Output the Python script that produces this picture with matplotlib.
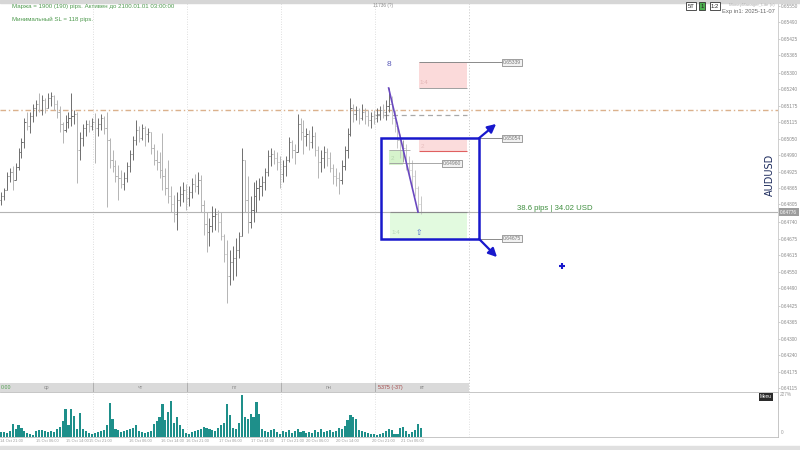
import matplotlib.pyplot as plt
import matplotlib.transforms as mtransforms
from matplotlib.patches import Rectangle

plt.rcParams['font.family'] = ['Liberation Sans', 'DejaVu Sans']

# AUDUSD bars, price in points (1e-5)
highs = [64851, 64866, 64926, 64941, 64949, 64960, 65016, 65054, 65129, 65152, 65152, 65182, 65197, 65223, 65215, 65204,
         65223, 65227, 65215, 65197, 65174, 65114, 65140, 65152, 65223, 65159, 65152, 65077, 65107, 65122, 65122, 65129,
         65148, 65129, 65144, 65137, 65152, 65054, 65009, 64971, 64953, 64934, 64926, 64964, 65009, 65062, 65122, 65099,
         65107, 65099, 65092, 65077, 65031, 65009, 65001, 65073, 64941, 64971, 64874, 64840, 64851, 64874, 64889, 64881,
         64874, 64904, 64919, 64926, 64915, 64821, 64776, 64754, 64799, 64791, 64784, 64776, 64694, 64671, 64634, 64649,
         64679, 64701, 65016, 64934, 64911, 64836, 64889, 64896, 64904, 64911, 64941, 65009, 65016, 65009, 65001, 64986,
         64971, 64986, 65058, 65046, 65031, 65144, 65129, 65122, 65092, 65084, 65099, 65077, 65024, 65009, 65024, 65016,
         65001, 64956, 64941, 64926, 64971, 65024, 65092, 65204, 65182, 65174, 65167, 65182, 65167, 65159, 65152, 65159,
         65167, 65174, 65182, 65197, 65242, 65212, 65159, 65114, 65069, 65046, 65031, 64986, 64971, 64934, 64874, 64836]
lows = [64802, 64821, 64859, 64889, 64859, 64904, 64934, 64979, 65016, 65084, 65073, 65114, 65137, 65152, 65140, 65148,
        65167, 65174, 65159, 65129, 65077, 65035, 65077, 65092, 65099, 65107, 64885, 64971, 65024, 65062, 65077, 65084,
        64960, 65062, 65084, 65069, 64795, 64941, 64926, 64889, 64821, 64866, 64859, 64889, 64926, 64971, 65028, 65039,
        65046, 65024, 65039, 64994, 64953, 64934, 64904, 64859, 64840, 64810, 64776, 64739, 64709, 64799, 64814, 64784,
        64799, 64829, 64851, 64844, 64776, 64690, 64626, 64649, 64701, 64709, 64701, 64671, 64589, 64435, 64502, 64521,
        64536, 64604, 64694, 64776, 64697, 64716, 64739, 64776, 64821, 64836, 64859, 64911, 64949, 64956, 64934, 64866,
        64889, 64911, 64964, 64979, 64956, 65009, 65046, 64994, 65024, 65009, 65016, 64986, 64904, 64926, 64941, 64949,
        64926, 64881, 64874, 64844, 64881, 64934, 64979, 65062, 65114, 65122, 65107, 65122, 65107, 65099, 65092, 65107,
        65114, 65122, 65129, 65122, 65152, 65107, 65077, 65016, 64979, 64964, 64934, 64904, 64859, 64836, 64776, 64769]
closes = [64836, 64859, 64911, 64926, 64896, 64945, 65001, 65039, 65114, 65099, 65137, 65167, 65182, 65159, 65197, 65167,
          65204, 65212, 65182, 65152, 65107, 65084, 65114, 65129, 65137, 65144, 65009, 65054, 65092, 65107, 65099, 65114,
          65092, 65107, 65129, 65092, 65046, 64971, 64949, 64911, 64904, 64881, 64904, 64949, 64994, 65046, 65084, 65054,
          65092, 65069, 65077, 65016, 64971, 64964, 64934, 64911, 64866, 64836, 64806, 64769, 64821, 64844, 64859, 64829,
          64851, 64881, 64874, 64896, 64802, 64731, 64701, 64724, 64761, 64769, 64739, 64686, 64619, 64536, 64589, 64604,
          64634, 64686, 64971, 64821, 64739, 64784, 64836, 64866, 64874, 64889, 64926, 64986, 64994, 64979, 64964, 64919,
          64949, 64971, 65039, 65009, 65001, 65107, 65077, 65062, 65069, 65039, 65062, 65009, 64964, 64979, 65001, 64979,
          64941, 64911, 64904, 64896, 64949, 65009, 65069, 65167, 65144, 65159, 65129, 65152, 65137, 65122, 65137, 65129,
          65144, 65159, 65152, 65174, 65182, 65129, 65099, 65046, 65009, 65016, 64956, 64934, 64911, 64866, 64806, 64776]
first_open = 64821
volumes = [5, 5, 4, 6, 13, 8, 12, 9, 6, 4, 3, 2, 6, 7, 7, 6, 5, 6, 5, 8, 10, 16, 28, 12, 28, 21, 8, 24, 8, 6, 4, 3,
           4, 5, 6, 7, 12, 34, 18, 8, 7, 5, 6, 7, 8, 9, 12, 6, 5, 4, 5, 6, 13, 16, 20, 33, 17, 25, 36, 14, 20, 12, 8, 4,
           3, 5, 6, 7, 8, 10, 9, 8, 7, 6, 9, 12, 14, 33, 22, 9, 8, 14, 42, 20, 18, 23, 20, 35, 23, 8, 6, 5, 7, 8, 5, 3,
           6, 5, 7, 4, 6, 8, 5, 6, 4, 5, 4, 7, 5, 8, 5, 6, 7, 5, 6, 9, 8, 11, 17, 22, 20, 18, 7, 6, 5, 4, 3, 3,
           2, 3, 4, 6, 8, 7, 3, 3, 9, 10, 6, 3, 5, 7, 13, 9]

price_ticks = [0.65550, 0.65490, 0.65425, 0.65365, 0.65300, 0.65240, 0.65175, 0.65115, 0.65050, 0.64990, 0.64925,
               0.64865, 0.64805, 0.64740, 0.64675, 0.64615, 0.64550, 0.64490, 0.64425, 0.64365, 0.64300, 0.64240,
               0.64175, 0.64115]
day_names = ['ср', 'чт', 'пт', 'пн', 'вт']
day_bounds = [31.5, 63.5, 95.5, 127.5, 159.5]
time_labels = ['14 Oct 21:00', '15 Oct 06:00', '15 Oct 14:00', '15 Oct 21:00', '16 Oct 06:00', '16 Oct 14:00',
               '16 Oct 21:00', '17 Oct 06:00', '17 Oct 14:00', '17 Oct 21:00', '20 Oct 06:00', '20 Oct 14:00',
               '20 Oct 21:00', '21 Oct 06:00']
time_pos = [-0.2, 15.7, 25.9, 33.9, 47.4, 58.3, 66.8, 78.0, 89.2, 99.4, 107.6, 117.8, 130.1, 140.0]

# trade setup levels, points
tp_far = 65339
pink_low = 65242
box_top = 65054
pink2_low = 65005
small_top = 65009
small_low = 64953
mid_level = 64960
box_low = 64675
pivot_line = 65159
dash_line = 65140
result_text = '38.6 pips | 34.02 USD'

p = lambda v: v / 100000.0
opens = [first_open] + closes[:-1]
idx = list(range(len(closes)))
current = p(closes[-1])

W, H = 800.0, 450.0
fig = plt.figure(figsize=(8, 4.5), dpi=100)
fig.patch.set_facecolor('white')

ax = fig.add_axes([0, 58 / H, 778 / W, 392 / H])
ax.set_xlim(-0.3, 264.55)
ax.set_ylim(0.641004, 0.655725)
for s in ['top', 'left', 'bottom']:
    ax.spines[s].set_visible(False)
ax.spines['right'].set_color('#c8c8c8')
ax.spines['right'].set_linewidth(0.6)
ax.set_xticks([])
ax.yaxis.tick_right()
ax.set_yticks(price_ticks)
ax.set_yticklabels([f'{v:.5f}' for v in price_ticks])
ax.tick_params(axis='y', labelsize=3.4, labelcolor='#8a8a8a', length=1.5, width=0.5, color='#bbbbbb', pad=0.8)

# separators
for b in day_bounds[:-1]:
    ax.axvline(b, color='#d4d4d4', lw=0.6, ls=(0, (1, 2)))
ax.axvline(day_bounds[-1], color='#c4c4c4', lw=0.7, ls=(0, (1, 2)))

ax.axhline(p(pivot_line), color='#dbb18c', lw=1.0, ls=(0, (4, 2, 1, 2)))
ax.axhline(current, color='#b4b4b4', lw=0.8)
ax.hlines(p(dash_line), 127.4, 158.7, color='#a8a8a8', lw=0.9, ls=(0, (4, 3)))

# OHLC bars
for i in idx:
    o, c = p(opens[i]), p(closes[i])
    hi = max(p(highs[i]), o, c)
    lo = min(p(lows[i]), o, c)
    col = '#6e6e6e' if c >= o else '#b4b4b4'
    if i > 132:
        col = '#a0a0a0' if c >= o else '#c8c8c8'
    ax.vlines(i, lo, hi, color=col, lw=0.7)
    ax.hlines(o, i - 0.4, i, color=col, lw=0.7)
    ax.hlines(c, i, i + 0.4, color=col, lw=0.7)

# trade zones
ax.add_patch(Rectangle((142.3, p(pink_low)), 16.4, p(tp_far) - p(pink_low), fc='#fbdada', ec='none', zorder=0.5))
ax.hlines(p(tp_far), 142.3, 170.6, color='#8a8a8a', lw=0.7)
ax.hlines(p(pink_low), 142.3, 158.7, color='#a0a0a0', lw=0.7)
ax.text(142.6, p(65264), '1:4', fontsize=4.5, color='#e3b5b5', va='center')

ax.add_patch(Rectangle((142.3, p(pink2_low)), 16.4, p(box_top) - p(pink2_low), fc='#fbdcdc', ec='none', zorder=0.5))
ax.hlines(p(pink2_low), 142.3, 158.7, color='#e06060', lw=0.8)
ax.text(143.0, p(65024), '2', fontsize=4.5, color='#e8c0c0', va='center')

ax.add_patch(Rectangle((132.1, p(small_low)), 4.9, p(small_top) - p(small_low), fc='#d6f3cc', ec='none', zorder=0.5))
ax.hlines(p(small_top), 132.1, 139.3, color='#a8a8a8', lw=0.6)
ax.hlines(p(mid_level), 132.1, 150.2, color='#9a9a9a', lw=0.6)
ax.text(132.6, p(64979), '2', fontsize=4.5, color='#b8d8b0', va='center')

ax.add_patch(Rectangle((132.5, p(box_low)), 26.2, current - p(box_low), fc='#e2fadf', ec='none', zorder=0.5))
ax.hlines(current, 132.5, 158.7, color='#8c8c8c', lw=0.8)
ax.text(133.0, p(64701), '1:4', fontsize=4.5, color='#b7d6b7', va='center')
ax.text(142.3, p(64701), '⇧', fontsize=5.5, color='#4a68c8', va='center', ha='center', family='DejaVu Sans')

# wave line
ax.plot([132, 142], [p(highs[132]), p(lows[142])], color='#6a48c0', lw=1.2, zorder=4)
ax.text(132, p(65332), '8', fontsize=6, color='#5858b8', ha='center', va='center')

# blue box and arrows
blue = '#1818cc'
ax.add_patch(Rectangle((129.4, p(box_low)), 33.4, p(box_top) - p(box_low), fill=False, ec=blue, lw=1.8, zorder=5))
ax.hlines([p(box_top), p(box_low)], 162.8, 170.6, color='#8a8a8a', lw=0.7)
ax.annotate('', xy=(168.6, p(65107)), xytext=(162.8, p(box_top)),
            arrowprops=dict(arrowstyle='-|>,head_length=0.5,head_width=0.25', color=blue, lw=1.6, shrinkA=0, shrinkB=0),
            zorder=5)
ax.annotate('', xy=(168.9, p(64607)), xytext=(162.8, p(box_low)),
            arrowprops=dict(arrowstyle='-|>,head_length=0.5,head_width=0.25', color=blue, lw=1.6, shrinkA=0, shrinkB=0),
            zorder=5)
ax.plot([191.0], [p(64573)], marker='+', ms=5, mew=1.5, color=blue)

lbl = dict(boxstyle='square,pad=0.2', fc='#f2f2f2', ec='#7a7a7a', lw=0.5)
for lv, x0 in [(tp_far, 170.8), (box_top, 170.8), (box_low, 170.8), (mid_level, 150.4)]:
    ax.text(x0, p(lv), f'{p(lv):.5f}', fontsize=3.6, color='#777777', va='center', ha='left', bbox=lbl, zorder=6)

ax.text(175.7, p(64791), result_text, fontsize=5.6, color='#3f8f3f', va='center', ha='left')

trans = mtransforms.blended_transform_factory(ax.transAxes, ax.transData)
ax.text(1.003, current, f'{current:.5f}', transform=trans, fontsize=3.4, color='white', va='center', ha='left',
        bbox=dict(boxstyle='square,pad=0.25', fc='#9c9c9c', ec='none'), zorder=7)

# day band
axb = fig.add_axes([0, 58 / H, 778 / W, 9 / H], sharex=ax)
axb.set_ylim(0, 1)
axb.axis('off')
axb.axvspan(-0.3, day_bounds[-1], color='#dadada', lw=0)
for b in day_bounds[:-1]:
    axb.axvline(b, color='#a8a8a8', lw=0.6)
for k, name in enumerate(day_names):
    axb.text(k * 32 + 15.5, 0.5, name, fontsize=3.8, color='#8a8a8a', ha='center', va='center')
axb.text(128.3, 0.5, '5375 (-37)', fontsize=3.8, color='#a34545', ha='left', va='center')
axb.text(-0.2, 0.5, '0:00', fontsize=3.8, color='#4f9f4f', ha='left', va='center')

# volume panel
axv = fig.add_axes([0, 13 / H, 778 / W, 45 / H], sharex=ax)
axv.bar(idx, volumes, width=0.72, color='#1e8f8a', lw=0)
axv.set_ylim(0, 44.5)
axv.set_yticks([])
axv.tick_params(axis='x', length=0, labelbottom=False)
axv.spines['left'].set_visible(False)
for s in ['top', 'right', 'bottom']:
    axv.spines[s].set_color('#bdbdbd')
    axv.spines[s].set_linewidth(0.6)
for b in day_bounds:
    axv.axvline(b, color='#d8d8d8', lw=0.6, ls=(0, (1, 2)))
tv = mtransforms.blended_transform_factory(axv.transData, fig.transFigure)
for k, (lab, x) in enumerate(zip(time_labels, time_pos)):
    axv.text(x, 1 - 441 / H, lab, transform=tv, fontsize=2.9, color='#a0a0a0', ha='left' if k == 0 else 'center',
             va='center', clip_on=False)

# frame strips and header texts
fig.add_artist(Rectangle((0, 1 - 3 / H), 1, 3 / H, transform=fig.transFigure, color='#d6d6d6'))
fig.add_artist(Rectangle((0, 0), 1, 4 / H, transform=fig.transFigure, color='#e0e0e0'))
fig.text(12 / W, 1 - 6.5 / H, 'Маржа = 1900 (190) pips. Активен до 2100.01.01 03:00:00', fontsize=4.4,
         color='#4e9a4e', va='center')
fig.text(12 / W, 1 - 19 / H, 'Минимальный SL = 118 pips.', fontsize=4.4, color='#4e9a4e', va='center')
fig.text(383 / W, 1 - 5.5 / H, '11736 (?)', fontsize=3.4, color='#8a8a8a', va='center', ha='center')

tb = dict(boxstyle='square,pad=0.2', fc='white', ec='#333333', lw=0.6)
fig.text(691 / W, 1 - 6 / H, '5Т', fontsize=4.2, color='#222222', ha='center', va='center', bbox=tb)
fig.text(702 / W, 1 - 6 / H, '1', fontsize=4.2, color='#222222', ha='center', va='center',
         bbox=dict(boxstyle='square,pad=0.2', fc='#4caf50', ec='#333333', lw=0.6))
fig.text(715 / W, 1 - 6 / H, '1:2', fontsize=4.2, color='#222222', ha='center', va='center', bbox=tb)
fig.text(775 / W, 1 - 5 / H, 'MoneyManager_Lite (c)', fontsize=3.2, color='#b0b0b0', ha='right', va='center')
fig.text(775 / W, 1 - 12 / H, 'Exp in1: 2025-11-07', fontsize=4.2, color='#666666', ha='right', va='center')

fig.text(770 / W, 1 - 175 / H, 'AUDUSD', fontsize=7, color='#1c2a5c', rotation=90, ha='center', va='center',
         family='DejaVu Sans')
fig.text(766 / W, 1 - 397 / H, 'Menu', fontsize=3.4, color='white', ha='center', va='center',
         bbox=dict(boxstyle='square,pad=0.3', fc='#2b2b2b', ec='none'))
fig.text(780 / W, 1 - 395 / H, '227%', fontsize=3.4, color='#9a9a9a', ha='left', va='center')
fig.text(781 / W, 1 - 433 / H, '0', fontsize=3.4, color='#9a9a9a', ha='left', va='center')

fig.savefig('out.png', dpi=100)
